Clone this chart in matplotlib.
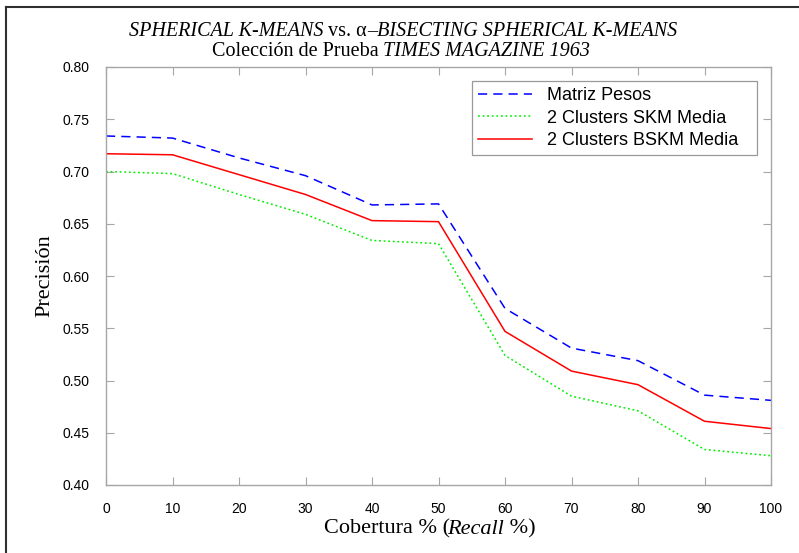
import matplotlib
matplotlib.use("Agg")
import matplotlib.pyplot as plt
from matplotlib.lines import Line2D

# data
recall = [0, 10, 20, 30, 40, 50, 60, 70, 80, 90, 100]
matriz_pesos = [0.734, 0.732, 0.713, 0.696, 0.668, 0.669, 0.569, 0.531, 0.519, 0.486, 0.481]
skm_media = [0.700, 0.698, 0.678, 0.659, 0.634, 0.631, 0.524, 0.485, 0.471, 0.434, 0.428]
bskm_media = [0.717, 0.716, 0.697, 0.678, 0.653, 0.652, 0.547, 0.509, 0.496, 0.461, 0.454]

xticks = [0, 10, 20, 30, 40, 50, 60, 70, 80, 90, 100]
yticks = [0.40, 0.45, 0.50, 0.55, 0.60, 0.65, 0.70, 0.75, 0.80]

serif = "Liberation Serif"
sans = "Liberation Sans"
grey = "#a6a6a6"

fig = plt.figure(figsize=(7.99, 5.53), dpi=100)
ax = fig.add_axes([106 / 799, 1 - 485 / 553, 665 / 799, 418 / 553])

ax.plot(recall, matriz_pesos, color="#0000ff", lw=1.1, dashes=(6, 4),
        label="Matriz Pesos")
ax.plot(recall, skm_media, color="#00ee00", lw=1.1, dashes=(1.2, 1.8),
        label="2 Clusters SKM Media")
ax.plot(recall, bskm_media, color="#ff0000", lw=1.1,
        label="2 Clusters BSKM Media")

ax.set_xlim(0, 100)
ax.set_ylim(0.40, 0.80)
ax.set_xticks(xticks)
ax.set_yticks(yticks)
ax.set_yticklabels([f"{v:.2f}" for v in yticks])
ax.tick_params(direction="in", length=6, width=0.8, color=grey,
               top=True, right=True, labelsize=10, pad=12)
for lab in ax.get_xticklabels() + ax.get_yticklabels():
    lab.set_family(sans)
for sp in ax.spines.values():
    sp.set_color(grey)
    sp.set_linewidth(1.0)

ax.set_ylabel("Precisión", family=serif, fontsize=16, labelpad=6)

# legend box spans the same area as in the reference
leg = ax.legend(loc="upper left", mode="expand",
                bbox_to_anchor=(366 / 665, 330 / 418, 285 / 665, 74 / 418),
                borderaxespad=0,
                prop={"family": sans, "size": 13}, handlelength=3.0,
                fancybox=False, frameon=True, borderpad=0.35,
                labelspacing=0.3, handletextpad=0.8)
leg.get_frame().set_edgecolor("#808080")
leg.get_frame().set_linewidth(0.9)


def rich_text(xc, y, parts, size):
    # draw pieces with mixed styles centred on one line
    r = fig.canvas.get_renderer()
    items = []
    for s, style, kern in parts:
        t = fig.text(0, y, s, fontsize=size, family=serif, style=style,
                     va="center", ha="left")
        items.append((t, t.get_window_extent(r).width + kern))
    total = sum(w for _, w in items)
    x = xc - total / 2
    for t, w in items:
        t.set_x(x / fig.bbox.width)
        x += w


rich_text(403, 1 - 32 / 553, [("SPHERICAL K-MEANS", "italic", 0), (" vs. α", "normal", 0),
                              ("–BISECTING SPHERICAL K-MEANS", "italic", 0)], 14.5)
rich_text(401, 1 - 52 / 553, [("Colección de Prueba ", "normal", 0),
                              ("TIMES MAGAZINE 1963", "italic", 0)], 14.5)
rich_text(430, 1 - 529 / 553, [("Cobertura % (", "normal", -3), ("Recall", "italic", 0),
                               (" %)", "normal", 0)], 16)

# frame lines at top and left of the picture
fig.add_artist(Line2D([6 / 799, 1], [1 - 7 / 553, 1 - 7 / 553], color="#303030", lw=1.5))
fig.add_artist(Line2D([6 / 799, 6 / 799], [0, 1 - 7 / 553], color="#303030", lw=1.5))

fig.savefig("out.png", dpi=100)
